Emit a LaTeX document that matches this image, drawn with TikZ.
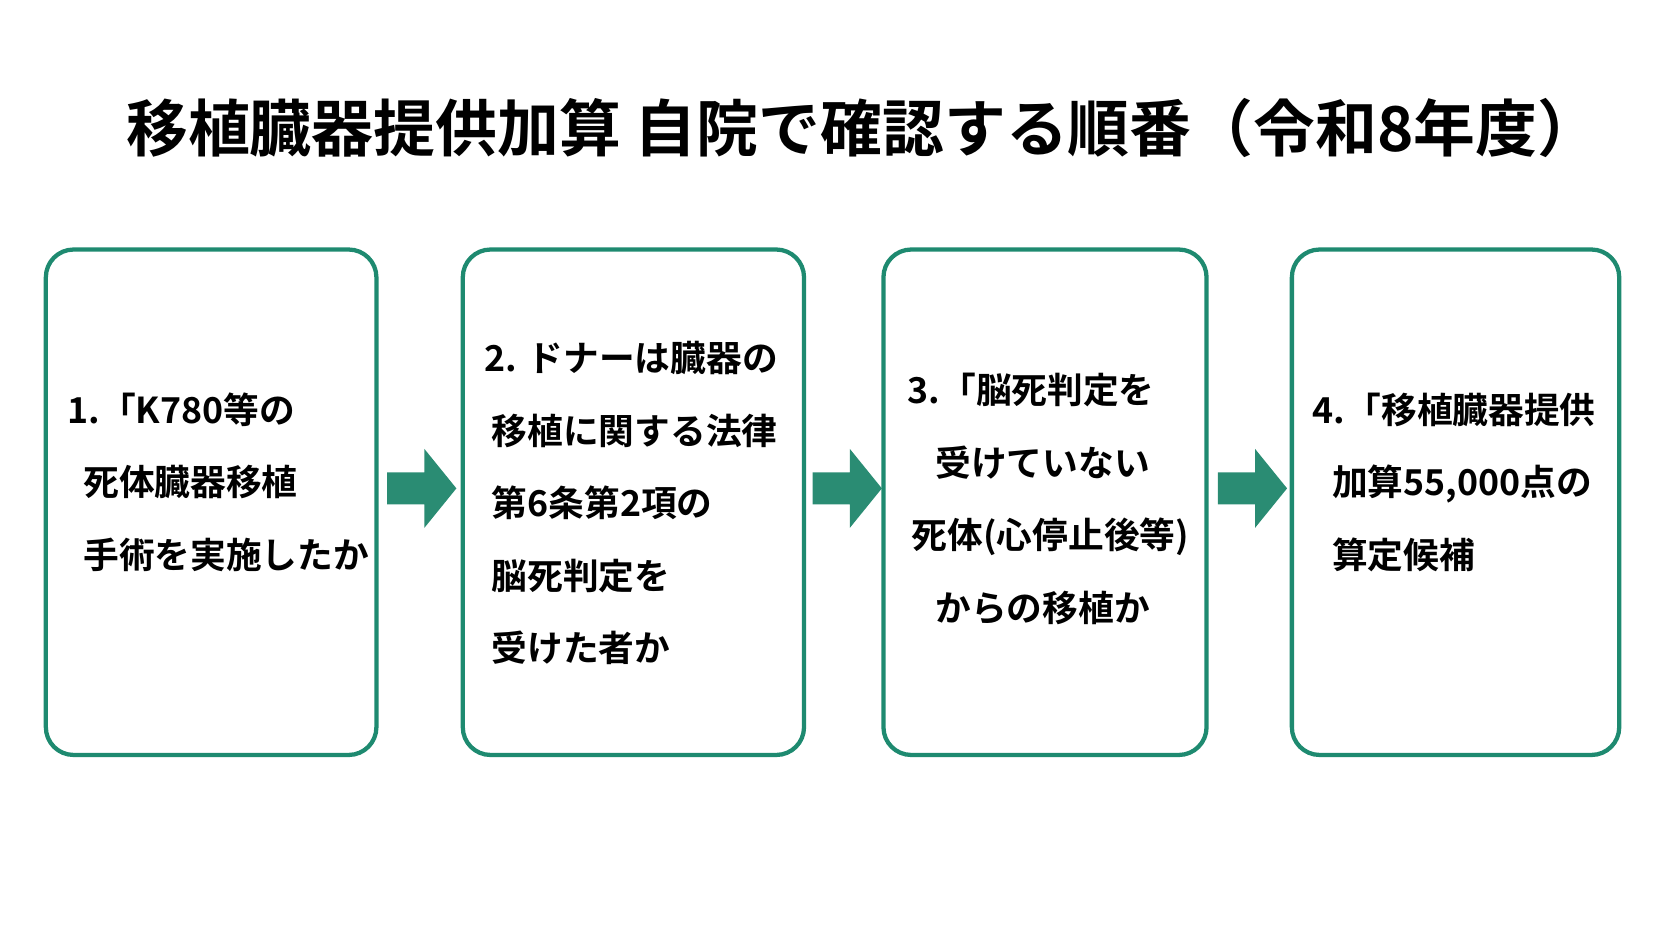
\documentclass[tikz,border=0pt]{standalone}
\usepackage{fontspec}
\setmainfont{Noto Sans CJK JP}[BoldFont={* Bold}]
\usetikzlibrary{positioning}
\definecolor{boxgreen}{HTML}{1E8A70}
\definecolor{arrowgreen}{HTML}{2A8C73}
\tikzset{step box/.style={draw=boxgreen,line width=4pt,rounded corners=26pt,minimum height=474pt,inner sep=0pt},}
\tikzset{step text/.style={anchor=north west,align=left,inner sep=0pt,font=\fontsize{33.5pt}{68pt}\selectfont\bfseries},}
\tikzset{step arrow/.style={fill=arrowgreen},}

\begin{document}
\begin{tikzpicture}[x=1pt,y=1pt]
       \useasboundingbox (0,0) rectangle (1568,-882);
       \node (title) at (809,-120) {\fontsize{58pt}{62pt}\selectfont\bfseries 移植臓器提供加算\ 自院で確認する順番（令和8年度）};

       \node[step box,minimum width=310pt] (b1) at (198,-471) {};
       \node[step box,minimum width=320pt] (b2) at (594,-471) {};
       \node[step box,minimum width=303pt] (b3) at (980,-471) {};
       \node[step box,minimum width=307pt] (b4) at (1365,-471) {};

       % arrows between the boxes
       \foreach \x in {363,762,1142}
         \fill[step arrow] (\x,-443) -- ++(35,0) -- ++(0,22) -- ++(30,-37)
           -- ++(-30,-37) -- ++(0,22) -- ++(-35,0) -- cycle;

       \node[step text] (t1) at (63,-368) {1.「K780等の\\\hspace{15pt}死体臓器移植\\\hspace{15pt}手術を実施したか};
       \node[step text] (t2) at (454,-320) {2. ドナーは臓器の\\\hspace{7pt}移植に関する法律\\\hspace{7pt}第6条第2項の\\\hspace{7pt}脳死判定を\\\hspace{7pt}受けた者か};
       \node[step text] (t3) at (851,-350) {3.「脳死判定を\\\hspace{26pt}受けていない\\\hspace{4pt}死体(心停止後等)\\\hspace{26pt}からの移植か};
       \node[step text] (t4) at (1231,-368) {4.「移植臓器提供\\\hspace{18pt}加算55,000点の\\\hspace{18pt}算定候補};
\end{tikzpicture}
\end{document}
